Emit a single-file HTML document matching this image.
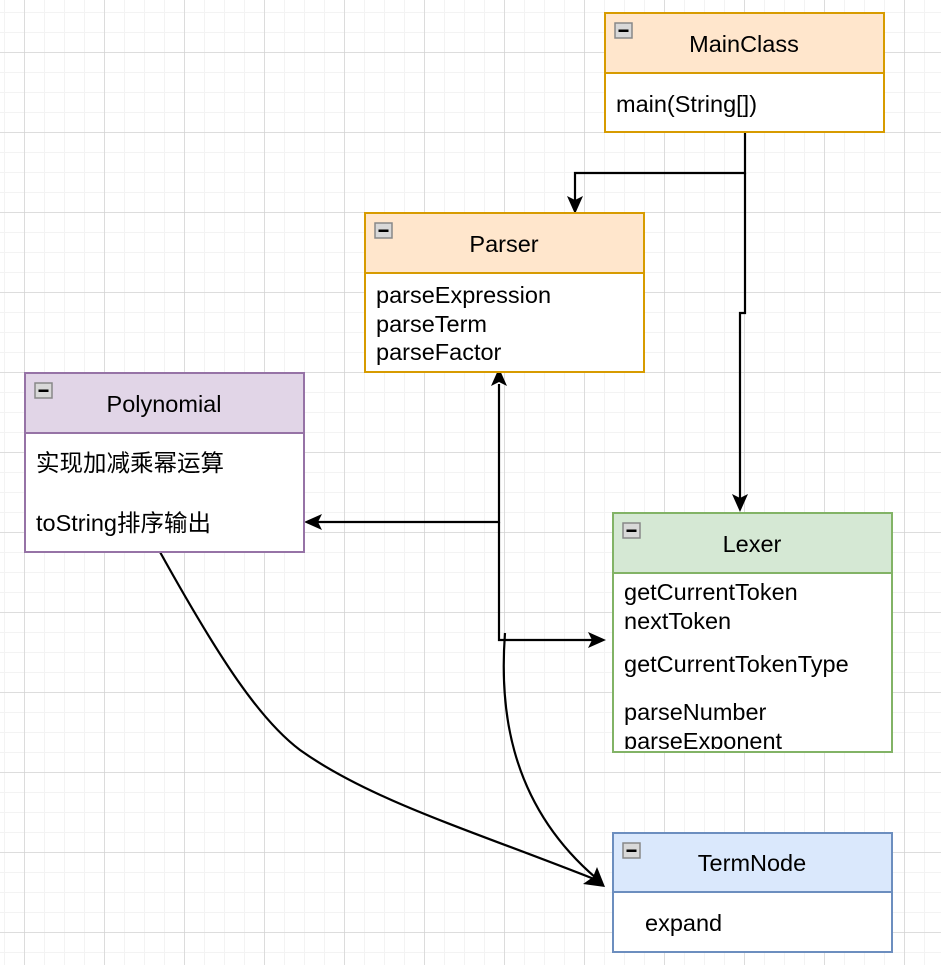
<!DOCTYPE html>
<html><head><meta charset="utf-8"><style>
html,body{margin:0;padding:0;background:#fff;}
svg{display:block;}
text{font-family:"Liberation Sans","Noto Sans CJK SC",sans-serif;font-size:23.5px;fill:#000;}
</style></head><body>
<svg width="941" height="965" viewBox="0 0 941 965" xmlns="http://www.w3.org/2000/svg">
<defs>
<pattern id="minor" width="20" height="20" patternUnits="userSpaceOnUse" x="4" y="12">
<path d="M0 0H20M0 0V20" stroke="#f3f3f3" stroke-width="2" fill="none"/>
</pattern>
<pattern id="major" width="80" height="80" patternUnits="userSpaceOnUse" x="24" y="52">
<path d="M0 0H80M0 0V80" stroke="#d0d0d0" stroke-width="1.3" fill="none"/>
</pattern>
<g id="ico"><rect x="0" y="0" width="17" height="15" fill="#d8d8d8" stroke="#888" stroke-width="1.5"/><rect x="3.5" y="6.5" width="10" height="2.5" fill="#000"/></g>
<clipPath id="lexclip"><rect x="613" y="573" width="279" height="176"/></clipPath>
</defs>
<rect width="941" height="965" fill="#fff"/>
<rect width="941" height="965" fill="url(#minor)"/>
<rect width="941" height="965" fill="url(#major)"/>

<g stroke="#000" stroke-width="2.2" fill="none">
<path d="M745 132V173H575V200"/>
<path d="M745 173V313H740V498"/>
<path d="M499 384V522H318"/>
<path d="M499 522V640H592"/>
<path d="M160 552C220 660 260 720 300 750C370 800 470 830 594 879"/>
<path d="M505 633C500 700 505 800 596 878"/>
</g>
<g fill="#000">
<path d="M575 214L567 196L575 200L583 196Z"/>
<path d="M740 512L732 494L740 498L748 494Z"/>
<path d="M499 368L491 386L499 382L507 386Z"/>
<path d="M304 522L322 514L318 522L322 530Z"/>
<path d="M606 640L588 632L592 640L588 648Z"/>
<path d="M605 887L583 884L593 877L597 867Z"/>
</g>

<rect x="605" y="13" width="279" height="119" fill="#fff" stroke="#d79b00" stroke-width="2"/>
<rect x="605" y="13" width="279" height="60" fill="#ffe6cc" stroke="#d79b00" stroke-width="2"/>
<use href="#ico" x="615" y="23"/>
<text x="744" y="52" text-anchor="middle">MainClass</text>
<text x="616" y="112">main(String[])</text>

<rect x="365" y="213" width="279" height="159" fill="#fff" stroke="#d79b00" stroke-width="2"/>
<rect x="365" y="213" width="279" height="60" fill="#ffe6cc" stroke="#d79b00" stroke-width="2"/>
<use href="#ico" x="375" y="223"/>
<text x="504" y="252" text-anchor="middle">Parser</text>
<text x="376" y="303">parseExpression</text>
<text x="376" y="332">parseTerm</text>
<text x="376" y="360">parseFactor</text>

<rect x="25" y="373" width="279" height="179" fill="#fff" stroke="#9673a6" stroke-width="2"/>
<rect x="25" y="373" width="279" height="60" fill="#e1d5e7" stroke="#9673a6" stroke-width="2"/>
<use href="#ico" x="35" y="383"/>
<text x="164" y="412" text-anchor="middle">Polynomial</text>
<text x="36" y="471">实现加减乘幂运算</text>
<text x="36" y="531">toString排序输出</text>

<rect x="613" y="513" width="279" height="239" fill="#fff" stroke="#82b366" stroke-width="2"/>
<rect x="613" y="513" width="279" height="60" fill="#d5e8d4" stroke="#82b366" stroke-width="2"/>
<use href="#ico" x="623" y="523"/>
<text x="752" y="552" text-anchor="middle">Lexer</text>
<g clip-path="url(#lexclip)">
<text x="624" y="600">getCurrentToken</text>
<text x="624" y="629">nextToken</text>
<text x="624" y="672">getCurrentTokenType</text>
<text x="624" y="720">parseNumber</text>
<text x="624" y="749">parseExponent</text>
</g>

<rect x="613" y="833" width="279" height="119" fill="#fff" stroke="#6c8ebf" stroke-width="2"/>
<rect x="613" y="833" width="279" height="59" fill="#dae8fc" stroke="#6c8ebf" stroke-width="2"/>
<use href="#ico" x="623" y="843"/>
<text x="752" y="871" text-anchor="middle">TermNode</text>
<text x="645" y="931">expand</text>
</svg>
</body></html>
